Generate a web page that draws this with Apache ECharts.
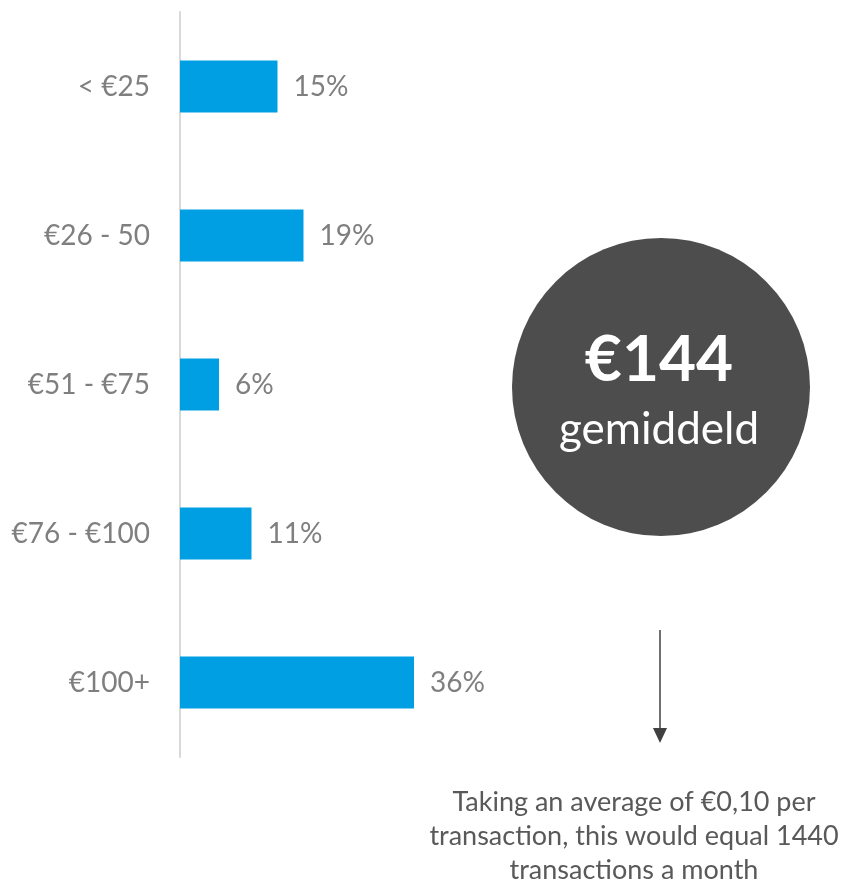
<!DOCTYPE html>
<html lang="en">
<head>
  <meta charset="UTF-8">
  <title>Bedrag per maand</title>
  <script src="https://cdn.jsdelivr.net/npm/echarts@6.0.0/dist/echarts.min.js"></script>
</head>
<style>
    body { margin: 0; }
    #main {
        width: 846px;
        height: 883px;
    }
</style>
<body>
<div id="main"></div>
<script>
  let categories = ['< €25', '€26 - 50', '€51 - €75', '€76 - €100', '€100+']
  let shares = [15, 19, 6, 11, 36]
  let averageLabel = '€144'
  let averageSub = 'gemiddeld'
  let noteLines = [
    'Taking an average of €0,10 per',
    'transaction, this would equal 1440',
    'transactions a month'
  ]

  const font = 'Lato'
  const grey = '#7f7f7f'

  const chart = echarts.init(document.getElementById('main'))
  chart.setOption({
    animation: false,
    grid: { left: 180, right: 406, top: 12, bottom: 126 },
    xAxis: {
      type: 'value',
      min: 0,
      max: 40,
      show: false
    },
    yAxis: {
      type: 'category',
      inverse: true,
      data: categories,
      axisLine: { show: true, lineStyle: { color: '#d9d9d9', width: 2 } },
      axisTick: { show: false },
      axisLabel: { color: grey, fontSize: 28, fontFamily: font, margin: 30 }
    },
    series: [
      {
        type: 'bar',
        data: shares,
        barWidth: 52,
        itemStyle: { color: '#009fe3' },
        label: {
          show: true,
          position: 'right',
          distance: 16,
          formatter: '{c}%',
          color: grey,
          fontSize: 28,
          fontFamily: font
        }
      }
    ],
    graphic: [
      {
        type: 'circle',
        shape: { cx: 661, cy: 387, r: 149 },
        style: { fill: '#4d4d4d' }
      },
      {
        type: 'text',
        x: 659, y: 360,
        style: {
          text: averageLabel, fill: '#fff', font: 'bold 64px ' + font,
          textAlign: 'center', textVerticalAlign: 'middle'
        }
      },
      {
        type: 'text',
        x: 659, y: 430,
        style: {
          text: averageSub, fill: '#fff', font: '44px ' + font,
          textAlign: 'center', textVerticalAlign: 'middle'
        }
      },
      // pijl naar de toelichting
      {
        type: 'line',
        shape: { x1: 660, y1: 630, x2: 660, y2: 732 },
        style: { stroke: '#404040', lineWidth: 1.5 }
      },
      {
        type: 'polygon',
        shape: { points: [[653, 728], [667, 728], [660, 743]] },
        style: { fill: '#404040' }
      },
      {
        type: 'text',
        x: 634, y: 836,
        style: {
          text: noteLines.join('\n'), fill: '#595959', font: '27px ' + font,
          lineHeight: 34, textAlign: 'center', textVerticalAlign: 'middle'
        }
      }
    ]
  })
</script>
</body>
</html>
